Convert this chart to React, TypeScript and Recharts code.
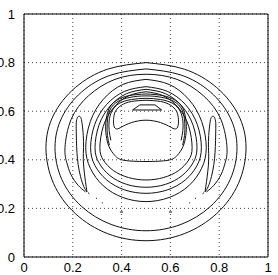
import { LineChart, Line, XAxis, YAxis, CartesianGrid, ReferenceLine } from 'recharts';

type Pt = { x: number; y: number };
const P = (pts: number[][]): Pt[] => pts.map(([x, y]) => ({ x, y }));

const ticks = [0, 0.2, 0.4, 0.6, 0.8, 1];
const tickLabels = ['0', '0.2', '0.4', '0.6', '0.8', '1'];

// outer closed contours
const ringA = P([[.5,.80],[.657,.773],[.790,.697],[.879,.584],[.910,.45],[.879,.303],[.790,.179],[.657,.096],[.5,.067],[.343,.096],[.210,.179],[.121,.303],[.09,.45],[.121,.584],[.210,.697],[.343,.773],[.5,.80]]);
const ringB = P([[.5,.774],[.643,.749],[.764,.679],[.845,.574],[.873,.45],[.845,.319],[.764,.208],[.643,.134],[.5,.108],[.357,.134],[.236,.208],[.155,.319],[.127,.45],[.155,.574],[.236,.679],[.357,.749],[.5,.774]]);
// open arc that breaks up near the horn tips
const arcC = P([[.252,.268],[.222,.295],[.192,.34],[.175,.39],[.168,.45],[.193,.566],[.265,.664],[.373,.731],[.5,.752],[.627,.731],[.735,.664],[.807,.566],[.832,.45],[.825,.39],[.808,.34],[.778,.295],[.748,.268]]);

// horns
const hornL = P([[.258,.268],[.245,.29],[.232,.33],[.222,.38],[.217,.43],[.215,.48],[.214,.53],[.215,.56],[.222,.578],[.232,.575],[.238,.55],[.243,.50],[.244,.45],[.243,.40],[.247,.35],[.252,.31],[.258,.268]]);
const hornR = P([[.742,.268],[.755,.29],[.768,.33],[.778,.38],[.783,.43],[.785,.48],[.786,.53],[.785,.56],[.778,.578],[.768,.575],[.762,.55],[.757,.50],[.756,.45],[.757,.40],[.753,.35],[.748,.31],[.742,.268]]);

// inner rings
const ring1 = P([[.5,.731],[.595,.710],[.675,.649],[.728,.558],[.747,.45],[.728,.365],[.675,.293],[.595,.245],[.5,.228],[.405,.245],[.325,.293],[.272,.365],[.253,.45],[.272,.558],[.325,.649],[.405,.710],[.5,.731]]);
const ring2 = P([[.5,.701],[.587,.682],[.661,.628],[.710,.546],[.727,.45],[.710,.378],[.661,.317],[.587,.276],[.5,.262],[.413,.276],[.339,.317],[.290,.378],[.273,.45],[.290,.546],[.339,.628],[.413,.682],[.5,.701]]);
const ring3 = P([[.5,.690],[.580,.672],[.648,.620],[.693,.542],[.709,.45],[.693,.388],[.648,.335],[.580,.299],[.5,.287],[.420,.299],[.352,.335],[.307,.388],[.291,.45],[.307,.542],[.352,.620],[.420,.672],[.5,.690]]);
const ring4 = P([[.5,.680],[.572,.663],[.634,.613],[.675,.538],[.689,.45],[.675,.399],[.634,.356],[.572,.327],[.5,.317],[.428,.327],[.366,.356],[.325,.399],[.311,.45],[.325,.538],[.366,.613],[.428,.663],[.5,.680]]);
const ring5 = P([[.5,.671],[.57,.664],[.62,.645],[.652,.61],[.665,.55],[.663,.50],[.652,.455],[.628,.418],[.59,.398],[.5,.393],[.41,.398],[.372,.418],[.348,.455],[.337,.50],[.335,.55],[.348,.61],[.38,.645],[.43,.664],[.5,.671]]);
const arc6 = P([[.35,.46],[.342,.50],[.341,.55],[.352,.605],[.385,.64],[.435,.657],[.5,.663],[.565,.657],[.615,.64],[.648,.605],[.659,.55],[.658,.50],[.65,.46]]);
const arc7 = P([[.356,.48],[.349,.52],[.349,.56],[.36,.60],[.39,.632],[.44,.648],[.5,.653],[.56,.648],[.61,.632],[.64,.60],[.651,.56],[.651,.52],[.644,.48]]);
const bean = P([[.5,.645],[.56,.64],[.6,.625],[.625,.6],[.633,.565],[.63,.535],[.618,.527],[.6,.535],[.56,.553],[.5,.563],[.44,.553],[.4,.535],[.382,.527],[.37,.535],[.367,.565],[.375,.6],[.4,.625],[.44,.64],[.5,.645]]);
const peak = P([[.445,.605],[.475,.626],[.537,.626],[.564,.605],[.445,.605]]);

// little broken bits near the bottom
const bits = [
  P([[.262,.265],[.268,.260]]),
  P([[.295,.243],[.299,.240]]),
  P([[.319,.224],[.323,.222]]),
  P([[.393,.185],[.406,.185]]),
  P([[.738,.265],[.732,.260]]),
  P([[.705,.243],[.701,.240]]),
  P([[.681,.224],[.677,.222]]),
  P([[.594,.185],[.607,.185]]),
];

const smooth = [ringA, ringB, arcC, hornL, hornR, ring1, ring2, ring3, ring4, ring5, arc6, arc7, bean];
const straight = [peak, ...bits];

const font = { fontSize: 13, fill: '#000', fontFamily: '"Liberation Sans", Arial, sans-serif' };

export default function App() {
  return (
    <div style={{ position: 'absolute', left: 0, top: 0, background: '#fff' }}>
      <LineChart width={278} height={275} margin={{ top: 14, right: 10, bottom: 0, left: -6 }}>
        <CartesianGrid strokeDasharray="1 3" stroke="#444" />
        <XAxis
          type="number"
          dataKey="x"
          domain={[0, 1]}
          ticks={ticks}
          allowDataOverflow
          height={18}
          tickLine={false}
          tickMargin={0}
          axisLine={{ stroke: '#000' }}
          tick={font}
          tickFormatter={(v: number) => tickLabels[ticks.indexOf(v)]}
        />
        <YAxis
          type="number"
          dataKey="y"
          domain={[0, 1]}
          ticks={ticks}
          allowDataOverflow
          width={30}
          tickLine={false}
          tickMargin={3}
          axisLine={{ stroke: '#000' }}
          tick={font}
          tickFormatter={(v: number) => tickLabels[ticks.indexOf(v)]}
        />
        <ReferenceLine y={1} stroke="#000" />
        <ReferenceLine x={1} stroke="#000" />
        {smooth.map((d, i) => (
          <Line key={'s' + i} data={d} dataKey="y" type="natural" stroke="#111" strokeWidth={1} dot={false} activeDot={false} isAnimationActive={false} />
        ))}
        {straight.map((d, i) => (
          <Line key={'l' + i} data={d} dataKey="y" type="linear" stroke="#111" strokeWidth={1} dot={false} activeDot={false} isAnimationActive={false} />
        ))}
      </LineChart>
    </div>
  );
}
